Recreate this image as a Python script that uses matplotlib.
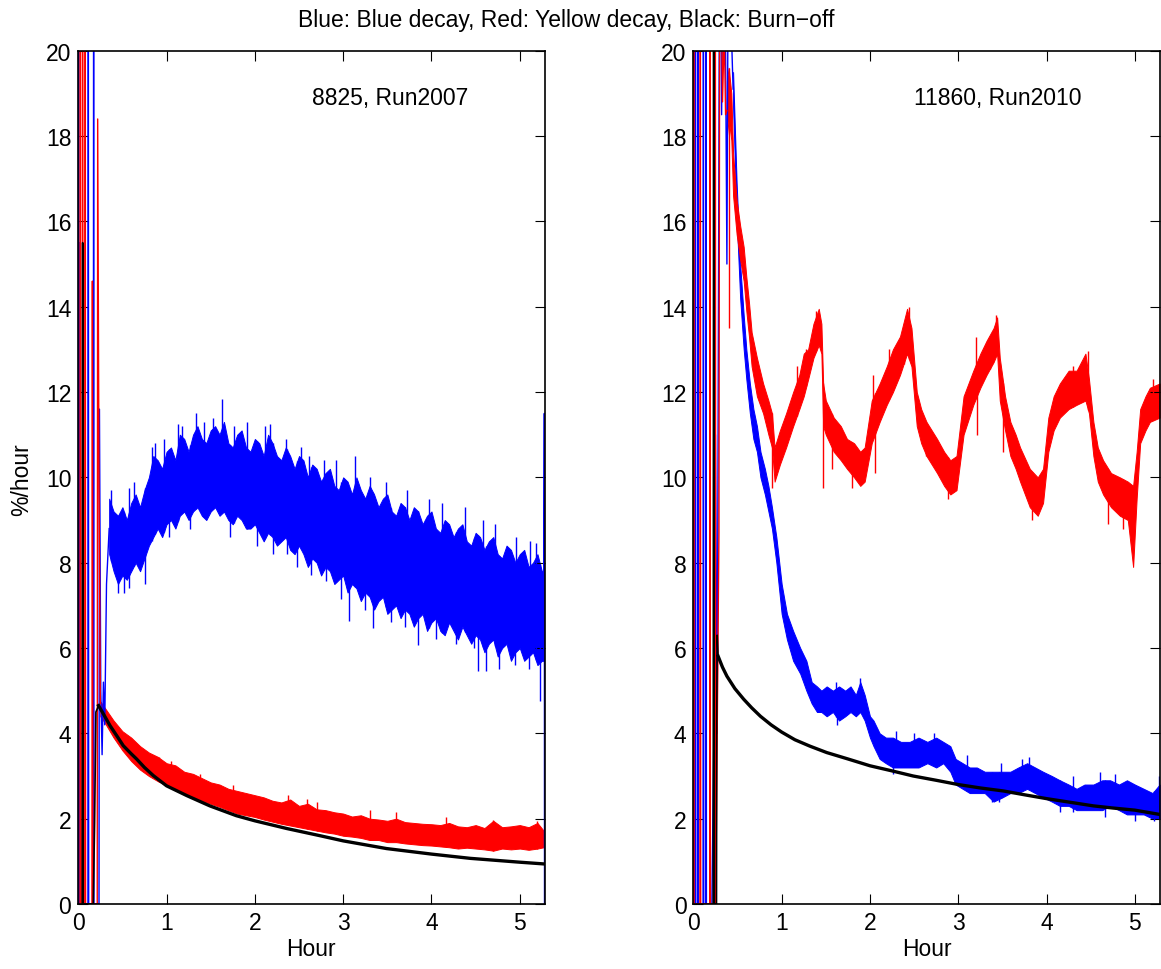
import matplotlib
matplotlib.use("Agg")
import matplotlib.pyplot as plt
import numpy as np

plt.rcParams['font.family'] = ['Liberation Sans', 'DejaVu Sans']

# ---------------- Left panel (8825, Run2007) ----------------
L_blue_start_x = [0.0, 0.004, 0.008, 0.012, 0.02, 0.11, 0.114, 0.118, 0.17, 0.174, 0.178, 0.235, 0.24, 0.255, 0.27, 0.285, 0.30, 0.32, 0.35]
L_blue_start_y = [0, 25, 0, 15.5, 0, 0, 25, 0, 0, 25, 0, 0, 11.6, 5.0, 3.5, 5.2, 4.2, 7.5, 8.8]
L_red_start_x = [0.02, 0.024, 0.028, 0.045, 0.049, 0.053, 0.075, 0.079, 0.083, 0.155, 0.16, 0.165, 0.215, 0.22, 0.235, 0.25]
L_red_start_y = [0, 25, 0, 0, 25, 0, 0, 25, 0, 0, 14.6, 0, 0, 18.4, 9.8, 4.7]
L_black_start_x = [0.045, 0.05, 0.055, 0.17, 0.185, 0.2, 0.23]
L_black_start_y = [0, 15.5, 0, 0, 1.9, 4.5, 4.65]

L_blue_x = [0.35, 0.40, 0.45, 0.50, 0.55, 0.60, 0.65, 0.70, 0.75, 0.80,
            0.85, 0.90, 0.95, 1.00, 1.05, 1.10, 1.15, 1.20, 1.25, 1.30,
            1.35, 1.40, 1.45, 1.50, 1.55, 1.60, 1.65, 1.70, 1.75, 1.80,
            1.85, 1.90, 1.95, 2.00, 2.05, 2.10, 2.15, 2.20, 2.25, 2.30,
            2.35, 2.40, 2.45, 2.50, 2.55, 2.60, 2.65, 2.70, 2.75, 2.80,
            2.85, 2.90, 2.95, 3.00, 3.05, 3.10, 3.15, 3.20, 3.25, 3.30,
            3.35, 3.40, 3.45, 3.50, 3.55, 3.60, 3.65, 3.70, 3.75, 3.80,
            3.85, 3.90, 3.95, 4.00, 4.05, 4.10, 4.15, 4.20, 4.25, 4.30,
            4.35, 4.40, 4.45, 4.50, 4.55, 4.60, 4.65, 4.70, 4.75, 4.80,
            4.85, 4.90, 4.95, 5.00, 5.05, 5.10, 5.15, 5.20, 5.25, 5.27]
L_blue_hi = [9.5, 9.2, 9.1, 9.3, 9.0, 9.4, 9.6, 9.3, 9.7, 10.0,
             10.5, 10.4, 10.2, 10.6, 10.7, 10.4, 11.0, 10.9, 10.6, 11.0,
             11.2, 10.9, 10.8, 11.1, 11.2, 11.0, 11.3, 10.8, 10.7, 11.0,
             11.1, 10.7, 10.6, 10.9, 10.8, 10.5, 11.0, 10.8, 10.5, 10.4,
             10.7, 10.5, 10.2, 10.5, 10.4, 10.0, 10.3, 10.2, 9.9, 10.1,
             10.2, 9.8, 9.7, 10.0, 9.9, 9.6, 10.0, 9.7, 9.5, 9.8,
             9.6, 9.3, 9.5, 9.6, 9.2, 9.1, 9.4, 9.3, 9.0, 9.3,
             9.2, 8.9, 9.1, 9.2, 8.8, 8.7, 9.0, 8.9, 8.6, 8.8,
             8.9, 8.5, 8.4, 8.7, 8.6, 8.3, 8.5, 8.6, 8.2, 8.1,
             8.4, 8.3, 8.0, 8.2, 8.3, 7.9, 8.0, 8.2, 7.8, 7.8]
L_blue_lo = [8.2, 7.8, 7.5, 7.7, 7.6, 7.8, 8.0, 7.8, 8.1, 8.4,
             8.6, 8.8, 8.6, 8.9, 9.0, 8.8, 9.1, 9.2, 9.0, 9.2,
             9.3, 9.1, 9.0, 9.2, 9.3, 9.1, 9.2, 9.0, 8.9, 9.1,
             9.0, 8.8, 8.8, 8.9, 8.7, 8.5, 8.7, 8.6, 8.4, 8.5,
             8.6, 8.3, 8.2, 8.4, 8.2, 7.9, 8.1, 8.0, 7.7, 7.9,
             7.8, 7.5, 7.6, 7.7, 7.3, 7.5, 7.4, 7.1, 7.3, 7.2,
             6.9, 7.1, 7.2, 6.8, 6.9, 7.0, 6.7, 6.9, 6.8, 6.5,
             6.7, 6.8, 6.4, 6.6, 6.7, 6.4, 6.3, 6.6, 6.4, 6.2,
             6.5, 6.3, 6.1, 6.3, 6.2, 5.9, 6.1, 6.2, 5.8, 6.0,
             6.1, 5.7, 5.9, 6.0, 5.7, 5.8, 5.9, 5.6, 5.7, 5.7]
L_blue_up_x = [0.37, 0.58, 0.63, 0.83, 0.87, 0.97, 1.13, 1.18, 1.33, 1.42, 1.53, 1.63, 1.76, 1.91,
               2.12, 2.17, 2.35, 2.52, 2.61, 2.78, 2.92, 3.13, 3.30, 3.48, 3.72, 3.97, 4.12, 4.38,
               4.58, 4.72, 4.96, 5.12, 5.18]
L_blue_up_y = [9.7, 9.75, 9.9, 10.7, 10.8, 10.9, 11.25, 11.2, 11.5, 11.3, 11.4, 11.84, 11.2, 11.3,
               11.2, 11.25, 10.9, 10.7, 10.5, 10.4, 10.4, 10.5, 10.0, 9.9, 9.7, 9.5, 9.4, 9.3,
               9.0, 8.9, 8.6, 8.5, 8.45]
L_blue_dn_x = [0.45, 0.52, 0.57, 0.76, 1.03, 1.27, 1.72, 2.02, 2.20, 2.36, 2.48, 2.64, 2.80, 2.98,
               3.07, 3.25, 3.34, 3.54, 3.70, 3.85, 4.05, 4.28, 4.48, 4.53, 4.62, 4.77, 4.95, 5.10, 5.23]
L_blue_dn_y = [7.3, 7.3, 7.4, 7.5, 8.6, 8.8, 8.6, 8.4, 8.2, 8.2, 7.9, 7.7, 7.57, 7.14,
               6.63, 6.9, 6.47, 6.6, 6.5, 6.08, 6.2, 6.1, 6.0, 5.46, 5.46, 5.5, 5.6, 5.5, 4.75]
L_blue_end_x = [5.27, 5.278, 5.28]
L_blue_end_y = [6.0, 11.5, 0.0]

L_red_x = [0.25, 0.3, 0.4, 0.5, 0.6, 0.7, 0.8, 0.9, 1.0, 1.1, 1.2, 1.3, 1.4, 1.5, 1.6, 1.7, 1.8, 1.9,
           2.0, 2.1, 2.2, 2.3, 2.4, 2.5, 2.6, 2.7, 2.8, 2.9, 3.0, 3.1, 3.2, 3.3, 3.4, 3.5, 3.6,
           3.7, 3.8, 3.9, 4.0, 4.1, 4.2, 4.3, 4.4, 4.5, 4.6, 4.7, 4.8, 4.9, 5.0, 5.1, 5.2, 5.27]
L_red_hi = [4.75, 4.6, 4.3, 4.05, 3.9, 3.7, 3.55, 3.45, 3.3, 3.25, 3.1, 3.05, 2.95, 2.85, 2.8, 2.7, 2.65, 2.6,
            2.55, 2.5, 2.42, 2.38, 2.45, 2.3, 2.35, 2.22, 2.2, 2.15, 2.12, 2.05, 2.08, 2.0, 1.98, 1.95, 2.0,
            1.92, 1.9, 1.88, 1.87, 1.85, 1.9, 1.82, 1.8, 1.85, 1.78, 1.95, 1.8, 1.82, 1.85, 1.8, 1.9, 1.72]
L_red_lo = [4.4, 4.25, 3.9, 3.6, 3.35, 3.15, 3.0, 2.88, 2.78, 2.68, 2.58, 2.5, 2.42, 2.35, 2.28, 2.2, 2.12, 2.08,
            2.04, 1.98, 1.93, 1.88, 1.84, 1.8, 1.76, 1.72, 1.68, 1.65, 1.6, 1.58, 1.55, 1.5, 1.5, 1.45, 1.45,
            1.42, 1.4, 1.38, 1.37, 1.35, 1.33, 1.3, 1.32, 1.3, 1.28, 1.25, 1.3, 1.28, 1.3, 1.27, 1.3, 1.33]
L_red_up_x = [0.92, 1.05, 1.38, 1.75, 2.38, 2.59, 2.70, 3.30, 3.60, 4.17, 4.70, 5.20]
L_red_up_y = [3.45, 3.35, 3.05, 2.8, 2.55, 2.45, 2.4, 2.2, 2.15, 2.05, 1.98, 1.95]

L_black_x = [0.23, 0.3, 0.36, 0.45, 0.51, 0.6, 0.66, 0.75, 0.85, 1.0, 1.23, 1.49, 1.79, 2.0, 2.36,
             2.74, 3.0, 3.49, 4.0, 4.44, 5.0, 5.27]
L_black_y = [4.65, 4.4, 4.18, 3.9, 3.71, 3.52, 3.40, 3.2, 3.01, 2.77, 2.54, 2.30, 2.07, 1.95, 1.77,
             1.60, 1.48, 1.30, 1.17, 1.07, 0.98, 0.94]

# ---------------- Right panel (11860, Run2010) ----------------
R_blue_start_x = [0.0, 0.004, 0.008, 0.02, 0.024, 0.028, 0.05, 0.054, 0.058, 0.11, 0.114, 0.118,
                  0.14, 0.144, 0.148, 0.21, 0.23, 0.25, 0.27, 0.30, 0.32, 0.35, 0.38, 0.40, 0.43, 0.45]
R_blue_start_y = [0, 25, 0, 0, 25, 0, 0, 25, 0, 0, 25, 0, 0, 25, 0, 0, 3.6, 11.0, 4.0, 25, 18.5, 25,
                  15.0, 25, 20.5, 19.1]
R_red_start_x = [0.0, 0.004, 0.008, 0.075, 0.079, 0.083, 0.185, 0.189, 0.193, 0.245, 0.249, 0.253,
                 0.29, 0.30, 0.33, 0.35, 0.365, 0.38]
R_red_start_y = [0, 25, 0, 0, 25, 0, 0, 25, 0, 0, 25, 0, 8.7, 25, 18.8, 20.5, 18.5, 18.6]
R_black_start_x = [0.225, 0.23, 0.235, 0.262, 0.265, 0.27, 0.28]
R_black_start_y = [0, 25, 0, 0, 4.3, 6.3, 5.81]

R_red_x = [0.38, 0.40, 0.43, 0.45, 0.49, 0.53, 0.57, 0.60, 0.63, 0.66, 0.72, 0.79, 0.85, 0.89, 0.92,
           0.98, 1.05, 1.13, 1.20, 1.25, 1.30, 1.36, 1.42, 1.45, 1.47, 1.50, 1.59, 1.67, 1.74, 1.82,
           1.89, 1.94, 2.02, 2.11, 2.19, 2.26, 2.34, 2.42, 2.47, 2.53, 2.58, 2.64, 2.70, 2.76, 2.84,
           2.91, 2.98, 3.06, 3.17, 3.25, 3.32, 3.40, 3.44, 3.47, 3.53, 3.59, 3.65, 3.70, 3.81, 3.90,
           3.96, 4.02, 4.08, 4.15, 4.25, 4.34, 4.44, 4.48, 4.53, 4.58, 4.64, 4.73, 4.83, 4.92, 4.98,
           5.02, 5.06, 5.12, 5.17, 5.28]
R_red_hi = [19.3, 19.6, 19.0, 17.6, 16.5, 15.9, 15.4, 14.7, 14.1, 13.4, 12.8, 12.2, 11.8, 11.5, 10.7,
            11.1, 11.5, 12.0, 12.4, 12.9, 13.0, 13.6, 13.95, 13.6, 12.2, 11.8, 11.4, 11.2, 10.9, 10.8,
            10.6, 10.7, 11.8, 12.2, 12.6, 13.0, 13.3, 13.95, 13.5, 12.0, 11.6, 11.3, 11.1, 10.9, 10.6,
            10.4, 10.5, 11.9, 12.5, 12.9, 13.2, 13.5, 13.75, 12.8, 11.9, 11.3, 11.0, 10.7, 10.2, 10.0,
            10.2, 11.4, 11.9, 12.2, 12.5, 12.5, 12.9, 12.3, 11.3, 10.7, 10.4, 10.1, 10.0, 9.9, 9.8,
            10.6, 11.6, 11.9, 12.1, 12.2]
R_red_lo = [18.0, 18.4, 17.9, 16.6, 15.7, 15.1, 14.6, 13.9, 13.3, 12.6, 11.9, 11.5, 11.0, 10.7, 9.9,
            10.3, 10.7, 11.2, 11.6, 11.9, 12.3, 12.8, 13.1, 12.9, 11.2, 11.0, 10.6, 10.4, 10.2, 10.0,
            9.8, 9.9, 10.8, 11.3, 11.7, 12.0, 12.4, 12.9, 12.6, 11.2, 10.8, 10.5, 10.3, 10.1, 9.8,
            9.6, 9.7, 11.0, 11.7, 12.1, 12.4, 12.7, 12.9, 11.8, 11.1, 10.5, 10.2, 9.9, 9.3, 9.1,
            9.4, 10.6, 11.1, 11.4, 11.6, 11.7, 11.8, 11.5, 10.5, 9.9, 9.6, 9.3, 9.1, 9.0, 7.9,
            9.5, 10.8, 11.1, 11.3, 11.4]
R_red_up_x = [1.17, 1.28, 1.39, 2.04, 2.22, 2.38, 2.44, 3.20, 3.36, 3.43, 4.30, 4.40, 4.47, 5.21]
R_red_up_y = [12.6, 13.0, 13.9, 12.4, 13.0, 13.6, 14.0, 13.3, 13.2, 13.8, 12.6, 12.6, 12.95, 12.3]
R_red_dn_x = [0.40, 0.89, 1.47, 1.57, 1.80, 2.06, 2.64, 2.88, 3.21, 3.51, 3.84, 4.70, 4.86]
R_red_dn_y = [13.5, 9.75, 9.75, 10.2, 9.75, 10.1, 10.5, 9.5, 11.0, 10.6, 9.0, 8.9, 8.8]

R_blue_x = [0.45, 0.49, 0.53, 0.57, 0.60, 0.64, 0.68, 0.72, 0.76, 0.81, 0.85, 0.89, 0.94, 1.00, 1.06,
            1.13, 1.21, 1.28, 1.34, 1.40, 1.45, 1.51, 1.58, 1.65, 1.72, 1.78, 1.84, 1.89, 1.94, 2.00,
            2.04, 2.11, 2.18, 2.26, 2.35, 2.45, 2.55, 2.65, 2.75, 2.83, 2.91, 2.97, 3.05, 3.13, 3.21,
            3.30, 3.40, 3.50, 3.59, 3.68, 3.78, 3.87, 3.96, 4.06, 4.15, 4.25, 4.34, 4.43, 4.53, 4.63,
            4.72, 4.82, 4.91, 5.00, 5.10, 5.20, 5.28]
R_blue_hi = [19.5, 16.9, 15.0, 13.8, 13.0, 12.2, 11.6, 11.2, 10.6, 10.2, 9.8, 9.3, 8.6, 7.5, 6.8,
             6.4, 6.0, 5.7, 5.2, 5.1, 5.0, 5.1, 5.0, 5.1, 5.0, 5.1, 4.9, 5.2, 4.9, 4.4,
             4.3, 4.0, 3.9, 3.9, 3.8, 3.8, 3.9, 3.8, 3.9, 3.8, 3.7, 3.4, 3.3, 3.2, 3.2,
             3.1, 3.1, 3.1, 3.1, 3.2, 3.3, 3.2, 3.1, 3.0, 2.9, 2.8, 2.7, 2.8, 2.8, 2.9,
             2.9, 2.8, 2.9, 2.8, 2.7, 2.6, 2.8]
R_blue_lo = [18.7, 16.1, 14.2, 13.0, 12.3, 11.5, 10.9, 10.6, 10.0, 9.6, 9.2, 8.8, 8.0, 6.8, 6.2,
             5.7, 5.4, 5.0, 4.7, 4.5, 4.5, 4.4, 4.5, 4.3, 4.4, 4.5, 4.4, 4.5, 4.3, 3.9,
             3.7, 3.4, 3.3, 3.2, 3.2, 3.2, 3.2, 3.3, 3.2, 3.3, 3.1, 2.8, 2.7, 2.6, 2.6,
             2.6, 2.4, 2.5, 2.6, 2.6, 2.7, 2.6, 2.5, 2.4, 2.3, 2.3, 2.2, 2.2, 2.2, 2.2,
             2.3, 2.2, 2.1, 2.1, 2.1, 2.0, 2.0]
R_blue_up_x = [1.62, 1.89, 2.30, 2.50, 2.72, 3.10, 3.48, 3.72, 3.80, 4.30, 4.60, 4.78, 5.27]
R_blue_up_y = [5.2, 5.3, 4.05, 4.0, 4.0, 3.5, 3.3, 3.4, 3.45, 3.0, 3.1, 3.05, 3.0]
R_blue_dn_x = [1.63, 2.26, 3.38, 3.46, 4.15, 4.30, 4.66, 5.00, 5.22]
R_blue_dn_y = [4.2, 3.05, 2.4, 2.4, 2.15, 2.15, 2.05, 1.95, 1.95]

R_black_x = [0.28, 0.33, 0.38, 0.47, 0.57, 0.66, 0.76, 0.88, 1.0, 1.15, 1.32, 1.51, 1.75, 2.0, 2.25,
             2.49, 2.75, 3.0, 3.25, 3.51, 3.75, 4.0, 4.25, 4.53, 4.75, 5.0, 5.28]
R_black_y = [5.81, 5.55, 5.34, 5.05, 4.8, 4.6, 4.4, 4.2, 4.03, 3.85, 3.7, 3.55, 3.4, 3.24, 3.12,
             3.0, 2.9, 2.8, 2.72, 2.65, 2.56, 2.47, 2.39, 2.3, 2.25, 2.2, 2.1]

titles = ["8825, Run2007", "11860, Run2010"]
xticks = [0, 1, 2, 3, 4, 5]
yticks = [0, 2, 4, 6, 8, 10, 12, 14, 16, 18, 20]

BLUE = (0, 0, 1)
RED = (1, 0, 0)

fig = plt.figure(figsize=(11.61, 9.70), dpi=100)
axL = fig.add_axes([0.0674, 0.0670, 0.4016, 0.8797])
axR = fig.add_axes([0.5972, 0.0670, 0.4016, 0.8797])


def band(ax, x, lo, hi, color, up_x=None, up_y=None, dn_x=None, dn_y=None):
    ax.fill_between(x, lo, hi, facecolor=color, edgecolor=color, lw=0.7)
    if up_x:
        ax.vlines(up_x, np.interp(up_x, x, lo), up_y, color=color, lw=1.0)
    if dn_x:
        ax.vlines(dn_x, dn_y, np.interp(dn_x, x, hi), color=color, lw=1.0)


# left panel: blue, then red, then black on top
axL.plot(L_blue_start_x, L_blue_start_y, color=BLUE, lw=1.0)
band(axL, L_blue_x, L_blue_lo, L_blue_hi, BLUE, L_blue_up_x, L_blue_up_y, L_blue_dn_x, L_blue_dn_y)
axL.plot(L_blue_end_x, L_blue_end_y, color=BLUE, lw=1.0)
axL.plot(L_red_start_x, L_red_start_y, color=RED, lw=1.0)
band(axL, L_red_x, L_red_lo, L_red_hi, RED, L_red_up_x, L_red_up_y)
axL.plot(L_black_start_x, L_black_start_y, color='black', lw=1.2)
axL.plot(L_black_x, L_black_y, color='black', lw=2.4)

# right panel
axR.plot(R_blue_start_x, R_blue_start_y, color=BLUE, lw=1.0)
band(axR, R_blue_x, R_blue_lo, R_blue_hi, BLUE, R_blue_up_x, R_blue_up_y, R_blue_dn_x, R_blue_dn_y)
axR.plot(R_red_start_x, R_red_start_y, color=RED, lw=1.0)
band(axR, R_red_x, R_red_lo, R_red_hi, RED, R_red_up_x, R_red_up_y, R_red_dn_x, R_red_dn_y)
axR.plot(R_black_start_x, R_black_start_y, color='black', lw=1.2)
axR.plot(R_black_x, R_black_y, color='black', lw=2.4)

for ax, t, tx in [(axL, titles[0], 2.65), (axR, titles[1], 2.5)]:
    ax.set_xlim(0, 5.28)
    ax.set_ylim(0, 20)
    ax.set_xticks(xticks)
    ax.set_yticks(yticks)
    ax.tick_params(direction='in', length=7, width=0.8, top=True, right=True,
                   labelsize=16.5, pad=5, colors='black')
    for s in ax.spines.values():
        s.set_linewidth(1.2)
    ax.set_xlabel('Hour', fontsize=16.5, labelpad=2)
    ax.text(tx, 18.9, t, fontsize=16.5, ha='left', va='center')

fig.text(22 / 1161, 1 - 480 / 970, '%/hour', rotation=90, fontsize=16.5, ha='center', va='center')
fig.text(566 / 1161, 1 - 20 / 970, 'Blue: Blue decay, Red: Yellow decay, Black: Burn\u2212off',
         fontsize=16.5, ha='center', va='center')

fig.savefig('out.png', dpi=100)
